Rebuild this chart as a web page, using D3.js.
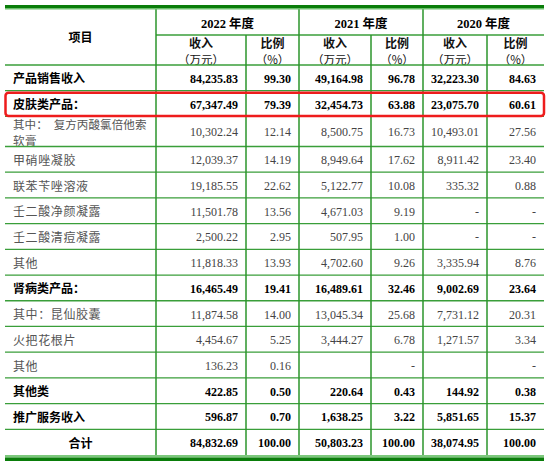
<!DOCTYPE html>
<html>
<head>
<meta charset="utf-8">
<script src="https://cdn.jsdelivr.net/npm/d3@7"></script>
<style>
  body { margin: 0; background: #fff; }
</style>
</head>
<body>
<div id="fig"></div>
<script>
const fig_width = 550
const fig_height = 466

// Table contents (万元 / %). null means "-", undefined means an empty cell
const items = ['产品销售收入', '皮肤类产品：', '其中：　复方丙酸氯倍他索|软膏', '甲硝唑凝胶', '联苯苄唑溶液',
    '壬二酸净颜凝露', '壬二酸清痘凝露', '其他', '肾病类产品：', '其中：昆仙胶囊', '火把花根片', '其他',
    '其他类', '推广服务收入', '合计']
const subtotal_items = ['产品销售收入', '皮肤类产品：', '肾病类产品：', '其他类', '推广服务收入', '合计']
const highlighted_item = '皮肤类产品：'

const years = ['2022 年度', '2021 年度', '2020 年度']
const rev_2022 = [84235.83, 67347.49, 10302.24, 12039.37, 19185.55, 11501.78, 2500.22, 11818.33, 16465.49, 11874.58, 4454.67, 136.23, 422.85, 596.87, 84832.69]
const pct_2022 = [99.30, 79.39, 12.14, 14.19, 22.62, 13.56, 2.95, 13.93, 19.41, 14.00, 5.25, 0.16, 0.50, 0.70, 100.00]
const rev_2021 = [49164.98, 32454.73, 8500.75, 8949.64, 5122.77, 4671.03, 507.95, 4702.60, 16489.61, 13045.34, 3444.27, undefined, 220.64, 1638.25, 50803.23]
const pct_2021 = [96.78, 63.88, 16.73, 17.62, 10.08, 9.19, 1.00, 9.26, 32.46, 25.68, 6.78, null, 0.43, 3.22, 100.00]
const rev_2020 = [32223.30, 23075.70, 10493.01, 8911.42, 335.32, null, null, 3335.94, 9002.69, 7731.12, 1271.57, undefined, 144.92, 5851.65, 38074.95]
const pct_2020 = [84.63, 60.61, 27.56, 23.40, 0.88, null, null, 8.76, 23.64, 20.31, 3.34, null, 0.38, 15.37, 100.00]

const value_columns = [rev_2022, pct_2022, rev_2021, pct_2021, rev_2020, pct_2020]
const sub_headers = [['收入', '（万元）'], ['比例', '（%）']]

// ---- layout ----
const left = 5, right = 544
const head_top = 9, head_mid = 35, head_bottom = 65, body_bottom = 455
const green_line = '#3a9e3a'
const green_dark = '#0a7d0a'
const num_font = '"Liberation Serif", "Times New Roman", serif'
const cjk_font = '"Liberation Serif", "Noto Sans CJK SC", sans-serif'

// column edges: label column then six value columns
let colScale = d3.scaleOrdinal()
    .domain(d3.range(8))
    .range([left, 156, 246, 299, 371, 423, 487, right])

// wrapped labels get a slightly taller row
let row_units = items.map(d => d.includes('|') ? 1.17 : 1)
let row_starts = d3.cumsum([0, ...row_units])
let rowScale = d3.scaleLinear()
    .domain([0, d3.sum(row_units)])
    .range([head_bottom, body_bottom])

let fmt = d3.format(',.2f')

let svg = d3.select('#fig').append('svg')
    .attr('width', fig_width)
    .attr('height', fig_height)

// header text
svg.append('text')
    .attr('x', (colScale(0) + colScale(1)) / 2)
    .attr('y', (head_top + head_bottom) / 2 + 5)
    .attr('text-anchor', 'middle')
    .attr('font-family', '"Noto Sans CJK SC", sans-serif')
    .attr('font-weight', 'bold')
    .attr('font-size', 12)
    .text('项目')

svg.selectAll('text.year')
    .data(years)
    .join('text')
    .attr('class', 'year')
    .attr('x', (d, i) => (colScale(1 + 2 * i) + colScale(3 + 2 * i)) / 2)
    .attr('y', (head_top + head_mid) / 2 + 6)
    .attr('text-anchor', 'middle')
    .attr('font-family', cjk_font)
    .attr('font-weight', 'bold')
    .attr('font-size', 12.5)
    .text(d => d)

d3.range(6).forEach(c => {
    let lines = sub_headers[c % 2]
    lines.forEach((t, k) => {
        svg.append('text')
            .attr('x', (colScale(1 + c) + colScale(2 + c)) / 2)
            .attr('y', head_mid + 13 + k * 15.5)
            .attr('text-anchor', 'middle')
            .attr('font-family', '"Noto Sans CJK SC", sans-serif')
            .attr('font-weight', k == 0 ? 'bold' : 'normal')
            .attr('font-size', k == 0 ? 12 : 11.5)
            .attr('fill', '#111')
            .text(t)
    })
})

// body rows
let rows = svg.selectAll('g.row')
    .data(items)
    .join('g')
    .attr('class', 'row')
    .attr('transform', (d, i) => `translate(0,${rowScale(row_starts[i])})`)

rows.each(function(label, i) {
    let g = d3.select(this)
    let h = rowScale(row_starts[i + 1]) - rowScale(row_starts[i])
    let strong = subtotal_items.includes(label)
    let parts = label.split('|')
    let tcol = strong ? '#000' : '#555'

    if (label == '合计') {
        g.append('text')
            .attr('x', (colScale(0) + colScale(1)) / 2)
            .attr('y', h / 2 + 5.5)
            .attr('text-anchor', 'middle')
            .attr('font-family', '"Noto Sans CJK SC", sans-serif')
            .attr('font-weight', 'bold')
            .attr('font-size', 12)
            .text(label)
    } else {
        parts.forEach((p, k) => {
            let t = g.append('text')
                .attr('x', colScale(0) + 8)
                .attr('y', h / 2 + 5.5 + (k - (parts.length - 1) / 2) * 15.5)
                .attr('font-family', '"Noto Sans CJK SC", sans-serif')
                .attr('font-weight', strong ? 'bold' : 'normal')
                .attr('font-size', parts.length > 1 ? 11.5 : 12)
                .attr('fill', tcol)
                .attr('letter-spacing', strong ? 0 : 0.6)
                .text(p)
            if (parts.length > 1 && k == 0) {
                t.attr('textLength', 134).attr('lengthAdjust', 'spacing')
            }
        })
    }

    value_columns.forEach((col, c) => {
        let v = col[i]
        if (v === undefined) return
        g.append('text')
            .attr('x', colScale(2 + c) - 8)
            .attr('y', h / 2 + 5)
            .attr('text-anchor', 'end')
            .attr('font-family', num_font)
            .attr('font-weight', strong ? 'bold' : 'normal')
            .attr('font-size', 12)
            .attr('fill', strong ? '#000' : '#444')
            .text(v === null ? '-' : fmt(v))
    })
})

// grid lines
let row_edges = row_starts.slice(0, -1).map(s => rowScale(s))
svg.selectAll('line.hline')
    .data(row_edges)
    .join('line')
    .attr('class', 'hline')
    .attr('x1', left).attr('x2', right)
    .attr('y1', d => d).attr('y2', d => d)
    .attr('stroke', green_line)
    .attr('stroke-width', 1.3)

svg.append('line')
    .attr('x1', colScale(1)).attr('x2', right)
    .attr('y1', head_mid).attr('y2', head_mid)
    .attr('stroke', green_line)
    .attr('stroke-width', 1.3)

d3.range(1, 7).forEach(c => {
    svg.append('line')
        .attr('x1', colScale(c)).attr('x2', colScale(c))
        .attr('y1', c % 2 == 0 ? head_mid : head_top)
        .attr('y2', body_bottom)
        .attr('stroke', '#2b942b')
        .attr('stroke-width', 1.5)
})

// heavy rules top and bottom
svg.append('rect').attr('x', left).attr('y', 5).attr('width', right - left).attr('height', 3).attr('fill', green_dark)
svg.append('rect').attr('x', left).attr('y', 8).attr('width', right - left).attr('height', 1.5).attr('fill', '#6cc06c')
svg.append('rect').attr('x', left).attr('y', body_bottom).attr('width', right - left).attr('height', 2.5).attr('fill', '#7cc87c')
svg.append('rect').attr('x', left).attr('y', body_bottom + 2.5).attr('width', right - left).attr('height', 3.5).attr('fill', green_dark)

// red highlight box
let hi = items.indexOf(highlighted_item)
svg.append('rect')
    .attr('x', left + 0.5)
    .attr('y', rowScale(row_starts[hi]) + 2)
    .attr('width', right - left - 0.5)
    .attr('height', rowScale(row_starts[hi + 1]) - rowScale(row_starts[hi]) - 2.5)
    .attr('rx', 3)
    .attr('fill', 'none')
    .attr('stroke', '#ee1c1c')
    .attr('stroke-width', 2.5)
</script>
</body>
</html>
